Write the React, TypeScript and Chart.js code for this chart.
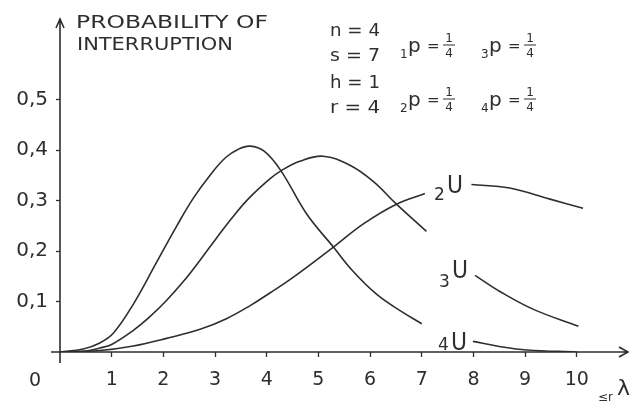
import React, { useEffect, useRef } from 'react';
import { Chart, registerables } from 'chart.js';
Chart.register(...registerables);

// ---- data ----
const xTicks = [1, 2, 3, 4, 5, 6, 7, 8, 9, 10];
const yTicks = [0.1, 0.2, 0.3, 0.4, 0.5];
const yTickLabels = ['0,1', '0,2', '0,3', '0,4', '0,5'];

// early-peaking curve (continues as 4U)
const curve4X = [0, 0.45, 0.77, 1.03, 1.42, 1.87, 2.26, 2.58, 2.9, 3.2, 3.45, 3.68, 3.95, 4.27, 4.77, 5.29, 5.67, 6.13, 6.58, 7.0];
const curve4Y = [0, 0.006, 0.018, 0.037, 0.095, 0.178, 0.25, 0.305, 0.35, 0.385, 0.402, 0.408, 0.398, 0.36, 0.274, 0.208, 0.16, 0.114, 0.082, 0.056];
// middle curve (continues as 3U)
const curve3X = [0, 0.5, 0.77, 1.0, 1.42, 1.74, 2.06, 2.39, 2.71, 3.03, 3.3, 3.63, 4.06, 4.29, 4.64, 5.09, 5.61, 6.06, 6.51, 7.09];
const curve3Y = [0, 0.002, 0.008, 0.015, 0.043, 0.07, 0.102, 0.14, 0.182, 0.226, 0.262, 0.302, 0.343, 0.36, 0.378, 0.388, 0.37, 0.338, 0.293, 0.239];
// slowly rising curve (continues as 2U)
const curve2X = [0, 0.77, 1.42, 2.06, 2.71, 3.22, 3.68, 4.06, 4.51, 5.29, 5.87, 6.51, 7.06];
const curve2Y = [0, 0.003, 0.012, 0.027, 0.045, 0.066, 0.092, 0.117, 0.148, 0.208, 0.254, 0.293, 0.314];
// tails to the right of the labels
const tail2X = [7.96, 8.7, 9.48, 10.12];
const tail2Y = [0.332, 0.325, 0.303, 0.285];
const tail3X = [8.03, 8.51, 9.15, 10.03];
const tail3Y = [0.152, 0.12, 0.085, 0.051];
const tail4X = [7.99, 8.5, 9.03, 10.0];
const tail4Y = [0.021, 0.011, 0.004, 0.0];

// ---- texts ----
const titleLines = ['PROBABILITY OF', 'INTERRUPTION'];
const paramLines = ['n = 4', 's = 7', 'h = 1', 'r = 4'];
const pSubs = ['1', '3', '2', '4'];
const pNum = '1';
const pDen = '4';
const curveLabelSubs = ['2', '3', '4'];
const curveLabelMain = 'U';
const originLabel = '0';
const xAxisSub = '≤r';
const xAxisMain = 'λ';

const INK = '#2e2e2e';
const FONT = 'DejaVu Sans';

function pts(xs: number[], ys: number[]) {
  return xs.map((x, i) => ({ x, y: ys[i] }));
}

function fitText(ctx: CanvasRenderingContext2D, text: string, x: number, y: number, width: number) {
  const w = ctx.measureText(text).width;
  ctx.save();
  ctx.translate(x, y);
  ctx.scale(width / w, 1);
  ctx.fillText(text, 0, 0);
  ctx.restore();
}

const decorPlugin = {
  id: 'decor',
  afterDraw(chart: any) {
    const ctx: CanvasRenderingContext2D = chart.ctx;
    const ca = chart.chartArea;
    const ys = chart.scales.y;
    const ax = ca.left;
    const ay = ys.getPixelForValue(0);
    ctx.save();
    ctx.strokeStyle = INK;
    ctx.fillStyle = INK;
    ctx.lineWidth = 1.6;
    // axes
    ctx.beginPath();
    ctx.moveTo(ax, ay + 11);
    ctx.lineTo(ax, ca.top);
    ctx.moveTo(ax - 9, ay);
    ctx.lineTo(ca.right, ay);
    // arrows
    ctx.moveTo(ax - 4, ca.top + 8);
    ctx.lineTo(ax, ca.top - 1);
    ctx.lineTo(ax + 4, ca.top + 8);
    ctx.moveTo(ca.right - 9, ay - 5);
    ctx.lineTo(ca.right, ay);
    ctx.lineTo(ca.right - 9, ay + 5);
    ctx.stroke();

    ctx.textBaseline = 'alphabetic';
    ctx.textAlign = 'left';
    // title
    ctx.font = `18px ${FONT}`;
    fitText(ctx, titleLines[0], 76, 28, 192);
    fitText(ctx, titleLines[1], 77, 50, 156);

    // origin label
    ctx.font = `19px ${FONT}`;
    ctx.textAlign = 'center';
    ctx.fillText(originLabel, 35, 386);
    ctx.textAlign = 'left';

    // parameters
    ctx.font = `17px ${FONT}`;
    const pb = [36, 61, 88, 113];
    paramLines.forEach((t, i) => fitText(ctx, t, 330, pb[i], 50));

    const drawP = (x: number, base: number, sub: string) => {
      ctx.font = `12px ${FONT}`;
      ctx.fillText(sub, x, base + 1);
      ctx.font = `20px ${FONT}`;
      ctx.fillText('p', x + 8, base - 5);
      ctx.font = `15px ${FONT}`;
      ctx.fillText('=', x + 27, base - 6);
      const fx = x + 49;
      ctx.font = `12px ${FONT}`;
      ctx.textAlign = 'center';
      ctx.fillText(pNum, fx, base - 15);
      ctx.fillText(pDen, fx, base);
      ctx.textAlign = 'left';
      ctx.lineWidth = 1;
      ctx.beginPath();
      ctx.moveTo(fx - 6, base - 12);
      ctx.lineTo(fx + 6, base - 12);
      ctx.stroke();
    };
    drawP(400, 57, pSubs[0]);
    drawP(481, 57, pSubs[1]);
    drawP(400, 111, pSubs[2]);
    drawP(481, 111, pSubs[3]);

    // curve labels
    const lbl = [
      { sx: 434, sb: 200, ux: 447, ub: 193 },
      { sx: 439, sb: 287, ux: 452, ub: 278 },
      { sx: 438, sb: 350, ux: 451, ub: 350 },
    ];
    lbl.forEach((l, i) => {
      ctx.font = `17px ${FONT}`;
      ctx.fillText(curveLabelSubs[i], l.sx, l.sb);
      ctx.font = `24px ${FONT}`;
      fitText(ctx, curveLabelMain, l.ux, l.ub, 16);
    });

    // x axis label
    ctx.font = `12px ${FONT}`;
    ctx.fillText(xAxisSub, 598, 401);
    ctx.font = `22px ${FONT}`;
    ctx.fillText(xAxisMain, 617, 395);
    ctx.restore();
  },
};

export default function App() {
  const ref = useRef<HTMLCanvasElement | null>(null);
  useEffect(() => {
    if (!ref.current) return;
    const ds = (xs: number[], ys: number[]) => ({
      data: pts(xs, ys),
      borderColor: INK,
      borderWidth: 1.6,
      pointRadius: 0,
      fill: false,
      tension: 0.4,
    });
    const chart = new Chart(ref.current, {
      type: 'line',
      data: {
        datasets: [
          ds(curve4X, curve4Y),
          ds(curve3X, curve3Y),
          ds(curve2X, curve2Y),
          ds(tail2X, tail2Y),
          ds(tail3X, tail3Y),
          ds(tail4X, tail4Y),
        ],
      },
      options: {
        animation: false,
        responsive: false,
        devicePixelRatio: 1,
        layout: { padding: { top: 10, right: 4, left: 0, bottom: 0 } },
        plugins: { legend: { display: false }, tooltip: { enabled: false } },
        scales: {
          x: {
            type: 'linear',
            min: 0,
            max: 10.99,
            afterBuildTicks: (s: any) => {
              s.ticks = xTicks.map((v) => ({ value: v }));
            },
            afterFit: (s: any) => {
              s.height = 50;
            },
            border: { display: false },
            grid: { drawOnChartArea: false, drawTicks: true, tickLength: 5, tickColor: INK, tickWidth: 1.3 },
            ticks: {
              color: INK,
              font: { family: FONT, size: 19 },
              padding: 12,
              maxRotation: 0,
              autoSkip: false,
              callback: (v: any) => String(v),
            },
          },
          y: {
            type: 'linear',
            min: 0,
            max: 0.658,
            afterBuildTicks: (s: any) => {
              s.ticks = yTicks.map((v) => ({ value: v }));
            },
            afterFit: (s: any) => {
              s.width = 60;
            },
            border: { display: false },
            grid: { drawOnChartArea: false, drawTicks: true, tickLength: 4, tickColor: INK, tickWidth: 1.3 },
            ticks: {
              color: INK,
              font: { family: FONT, size: 20 },
              padding: 8,
              autoSkip: false,
              callback: (_v: any, i: number) => yTickLabels[i],
            },
          },
        },
      },
      plugins: [decorPlugin],
    });
    return () => chart.destroy();
  }, []);
  return (
    <div style={{ position: 'absolute', left: 0, top: 0, width: 632, height: 402, background: '#fff' }}>
      <canvas ref={ref} width={632} height={402} style={{ width: 632, height: 402 }} />
    </div>
  );
}
